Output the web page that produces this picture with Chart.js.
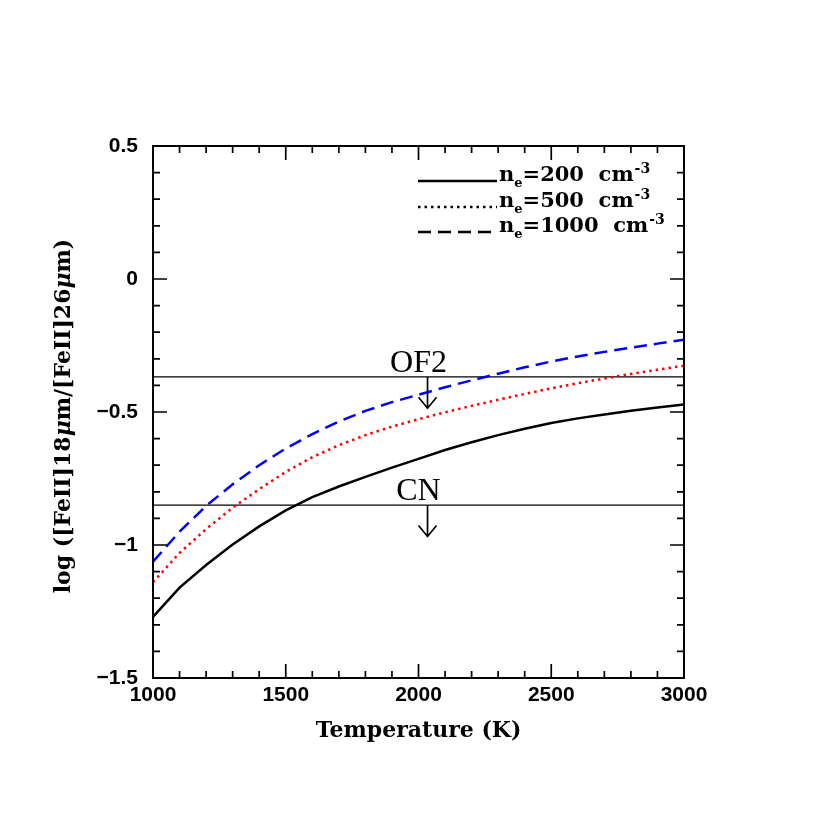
<!DOCTYPE html>
<html>
<head>
<meta charset="utf-8">
<script src="https://cdn.jsdelivr.net/npm/chart.js@4/dist/chart.umd.min.js"></script>
<style>
  html, body { margin: 0; padding: 0; background: #fff; }
</style>
</head>
<body>
<canvas id="c" width="830" height="830"></canvas>
<script>
// temperatures (K)
const temps = [1000, 1100, 1200, 1300, 1400, 1500, 1600, 1700, 1800, 1900, 2000,
               2100, 2200, 2300, 2400, 2500, 2600, 2700, 2800, 2900, 3000];
// log line ratio for each electron density
const ne200 = [-1.27, -1.16, -1.075, -0.998, -0.930, -0.870, -0.820, -0.780, -0.744, -0.709, -0.676,
               -0.643, -0.614, -0.587, -0.563, -0.541, -0.524, -0.509, -0.495, -0.483, -0.472];
const ne500 = [-1.14, -1.03, -0.94, -0.86, -0.79, -0.725, -0.67, -0.625, -0.587, -0.555, -0.527,
               -0.501, -0.477, -0.454, -0.432, -0.411, -0.392, -0.374, -0.357, -0.341, -0.326];
const ne1000 = [-1.063, -0.95, -0.853, -0.772, -0.700, -0.637, -0.583, -0.536, -0.496, -0.463, -0.435,
                -0.407, -0.381, -0.356, -0.332, -0.310, -0.291, -0.274, -0.258, -0.243, -0.228];
const densities = ["200", "500", "1000"];

// observed upper limits
const limitNames = ["OF2", "CN"];
const limitValues = [-0.368, -0.85];
const limitTemp = 2034;
const labelTemp = 2000;

const xTicks = [1000, 1500, 2000, 2500, 3000];
const yTicks = [-1.5, -1, -0.5, 0, 0.5];

const pts = (ys) => temps.map((t, i) => ({ x: t, y: ys[i] }));

// box, inward ticks on all sides, arrows, labels, legend, y title
const decorations = {
  id: "decorations",
  afterDraw(chart) {
    const { ctx, chartArea: a, scales: { x, y } } = chart;
    ctx.save();
    ctx.strokeStyle = "#000";
    ctx.fillStyle = "#000";
    ctx.setLineDash([]);

    // ticks
    ctx.lineWidth = 1.7;
    ctx.beginPath();
    for (let t = 1000; t <= 3000; t += 100) {
      const px = x.getPixelForValue(t);
      const len = xTicks.includes(t) ? 14 : 7;
      ctx.moveTo(px, a.bottom); ctx.lineTo(px, a.bottom - len);
      ctx.moveTo(px, a.top); ctx.lineTo(px, a.top + len);
    }
    for (let i = 0; i <= 20; i++) {
      const v = -1.5 + i * 0.1;
      const py = y.getPixelForValue(v);
      const len = i % 5 === 0 ? 14 : 7;
      ctx.moveTo(a.left, py); ctx.lineTo(a.left + len, py);
      ctx.moveTo(a.right, py); ctx.lineTo(a.right - len, py);
    }
    ctx.stroke();

    // frame
    ctx.lineWidth = 2;
    ctx.strokeRect(a.left, a.top, a.right - a.left, a.bottom - a.top);

    // upper-limit arrows and names
    ctx.lineWidth = 1.7;
    ctx.font = "32px 'Liberation Serif'";
    ctx.textAlign = "center";
    ctx.textBaseline = "alphabetic";
    limitValues.forEach((v, i) => {
      const ax = x.getPixelForValue(limitTemp);
      const y0 = y.getPixelForValue(v);
      const y1 = y.getPixelForValue(v - 0.118);
      ctx.beginPath();
      ctx.moveTo(ax, y0); ctx.lineTo(ax, y1);
      ctx.moveTo(ax - 9, y1 - 11); ctx.lineTo(ax, y1); ctx.lineTo(ax + 9, y1 - 11);
      ctx.stroke();
      ctx.fillText(limitNames[i], x.getPixelForValue(labelTemp), y0 - 5);
    });

    // legend
    const lx0 = a.left + 265, lx1 = a.left + 344;
    const rows = [35, 61, 86];
    chart.data.datasets.slice(0, 3).forEach((ds, i) => {
      const ly = a.top + rows[i];
      ctx.save();
      ctx.strokeStyle = "#000";
      ctx.lineWidth = ds.borderWidth;
      ctx.setLineDash(ds.borderDash || []);
      ctx.beginPath();
      ctx.moveTo(lx0, ly); ctx.lineTo(lx1, ly);
      ctx.stroke();
      ctx.restore();
      ctx.textAlign = "left";
      let tx = lx1 + 2;
      ctx.font = "bold 21px 'DejaVu Serif'";
      ctx.fillText("n", tx, ly); tx += ctx.measureText("n").width;
      ctx.font = "bold 13px 'DejaVu Serif'";
      ctx.fillText("e", tx, ly + 6); tx += ctx.measureText("e").width;
      ctx.font = "bold 21px 'DejaVu Serif'";
      const body = "=" + densities[i] + "  cm";
      ctx.fillText(body, tx, ly); tx += ctx.measureText(body).width;
      ctx.font = "bold 14px 'DejaVu Serif'";
      ctx.fillText("-3", tx + 1, ly - 8);
    });

    // y axis title with italic mu
    const parts = [["log ([FeII]18", "bold"], ["\u03bc", "bold italic"], ["m/[FeII]26", "bold"],
                   ["\u03bc", "bold italic"], ["m)", "bold"]];
    const fam = " 22px 'DejaVu Serif'";
    let total = 0;
    parts.forEach(p => { ctx.font = p[1] + fam; total += ctx.measureText(p[0]).width; });
    ctx.translate(64, (a.top + a.bottom) / 2 + 4);
    ctx.rotate(-Math.PI / 2);
    ctx.textBaseline = "middle";
    let px = -total / 2;
    parts.forEach(p => {
      ctx.font = p[1] + fam;
      ctx.fillText(p[0], px, 0);
      px += ctx.measureText(p[0]).width;
    });
    ctx.restore();
  }
};

const minus = (v) => (v < 0 ? "\u2212" + Math.abs(v) : String(v));

new Chart(document.getElementById("c"), {
  type: "line",
  data: {
    datasets: [
      { data: pts(ne200), borderColor: "#000", borderWidth: 2.5, pointRadius: 0, tension: 0 },
      { data: pts(ne500), borderColor: "#ff0000", borderWidth: 2.5, borderDash: [2.5, 4], pointRadius: 0, tension: 0 },
      { data: pts(ne1000), borderColor: "#0000ff", borderWidth: 2.5, borderDash: [13, 7], pointRadius: 0, tension: 0 },
      { data: [{ x: 1000, y: limitValues[0] }, { x: 3000, y: limitValues[0] }], borderColor: "#000", borderWidth: 1.3, pointRadius: 0 },
      { data: [{ x: 1000, y: limitValues[1] }, { x: 3000, y: limitValues[1] }], borderColor: "#000", borderWidth: 1.3, pointRadius: 0 }
    ]
  },
  options: {
    responsive: false,
    animation: false,
    devicePixelRatio: 1,
    layout: { padding: { top: 146, right: 146, left: 0, bottom: 0 } },
    plugins: { legend: { display: false }, tooltip: { enabled: false } },
    scales: {
      x: {
        type: "linear",
        min: 1000,
        max: 3000,
        afterFit: (s) => { s.height = 152; },
        afterBuildTicks: (s) => { s.ticks = xTicks.map(v => ({ value: v })); },
        grid: { display: false, drawTicks: false },
        border: { display: false },
        ticks: { color: "#000", padding: 5, font: { family: "Liberation Sans", size: 21, weight: "bold" },
                 callback: (v) => String(v) },
        title: {
          display: true,
          text: "Temperature (K)",
          color: "#000",
          font: { family: "DejaVu Serif", size: 22, weight: "bold" },
          padding: { top: 0, bottom: 86 }
        }
      },
      y: {
        type: "linear",
        min: -1.5,
        max: 0.5,
        afterFit: (s) => { s.width = 153; },
        afterBuildTicks: (s) => { s.ticks = yTicks.map(v => ({ value: v })); },
        grid: { display: false, drawTicks: false },
        border: { display: false },
        ticks: {
          color: "#000",
          padding: 15,
          font: { family: "Liberation Sans", size: 21, weight: "bold" },
          callback: (v) => minus(v)
        }
      }
    }
  },
  plugins: [decorations]
});
</script>
</body>
</html>
